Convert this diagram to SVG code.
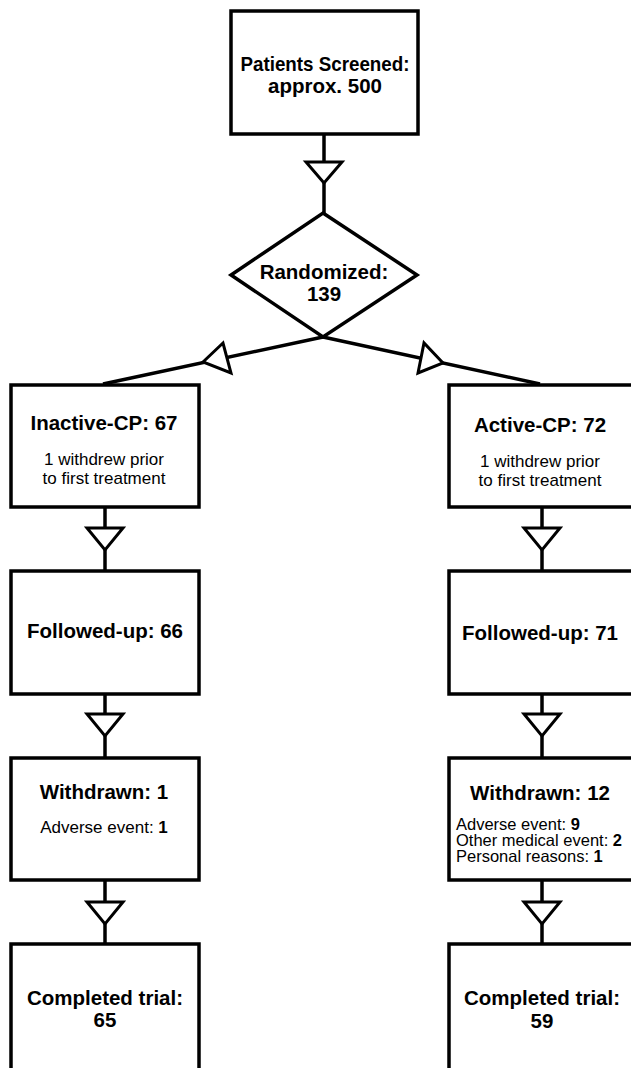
<svg xmlns="http://www.w3.org/2000/svg" width="631" height="1068" viewBox="0 0 631 1068">
<style>
.box{fill:#fff;stroke:#000;stroke-width:3.5}
.ln{fill:none;stroke:#000;stroke-width:3.5}
.ah{fill:#fff;stroke:#000;stroke-width:3;stroke-linejoin:miter}
.b{font-family:"Liberation Sans",Arial,sans-serif;font-weight:bold;font-size:20.5px;fill:#000;text-anchor:middle}
.r{font-family:"Liberation Sans",Arial,sans-serif;font-size:17px;fill:#000;text-anchor:middle}
.rl{font-family:"Liberation Sans",Arial,sans-serif;font-size:16.5px;fill:#000}
</style>
<rect width="631" height="1068" fill="#fff"/>
<g id="connectors">
<line class="ln" x1="324" y1="134" x2="324" y2="213"/>
<polygon class="ah" points="306,162 342,162 324,183"/>
<line class="ln" x1="323" y1="337" x2="103" y2="384"/>
<polygon class="ah" points="203,362 223,343 231,373"/>
<line class="ln" x1="323" y1="337" x2="540" y2="384"/>
<polygon class="ah" points="443,363 424,343 418,373"/>
<line class="ln" x1="105" y1="507" x2="105" y2="571"/>
<polygon class="ah" points="87,528 123,528 105,550"/>
<line class="ln" x1="105" y1="694" x2="105" y2="758"/>
<polygon class="ah" points="87,714 123,714 105,736"/>
<line class="ln" x1="105" y1="880" x2="105" y2="944"/>
<polygon class="ah" points="87,902 123,902 105,924"/>
<line class="ln" x1="542" y1="507" x2="542" y2="571"/>
<polygon class="ah" points="524,528 560,528 542,550"/>
<line class="ln" x1="542" y1="694" x2="542" y2="758"/>
<polygon class="ah" points="524,714 560,714 542,736"/>
<line class="ln" x1="542" y1="880" x2="542" y2="944"/>
<polygon class="ah" points="524,902 560,902 542,924"/>
</g>
<g id="screened">
<rect class="box" x="231" y="11" width="187" height="123"/>
<text class="b" x="325" y="71" font-size="19.5" textLength="169" lengthAdjust="spacingAndGlyphs">Patients Screened:</text>
<text class="b" x="325" y="93" font-size="19.5">approx. 500</text>
</g>
<g id="randomized">
<polygon class="box" points="323,213 417,275 323,337 231,275"/>
<text class="b" x="324" y="279">Randomized:</text>
<text class="b" x="324" y="301">139</text>
</g>
<g id="inactive">
<rect class="box" x="11" y="385" width="188" height="122"/>
<text class="b" x="104" y="430">Inactive-CP: 67</text>
<text class="r" x="104" y="465">1 withdrew prior</text>
<text class="r" x="104" y="484">to first treatment</text>
</g>
<g id="active">
<rect class="box" x="449" y="385" width="190" height="122"/>
<text class="b" x="540" y="432">Active-CP: 72</text>
<text class="r" x="540" y="467">1 withdrew prior</text>
<text class="r" x="540" y="486">to first treatment</text>
</g>
<g id="followed-left">
<rect class="box" x="11" y="571" width="188" height="123"/>
<text class="b" x="105" y="638">Followed-up: 66</text>
</g>
<g id="followed-right">
<rect class="box" x="449" y="571" width="190" height="123"/>
<text class="b" x="540" y="640">Followed-up: 71</text>
</g>
<g id="withdrawn-left">
<rect class="box" x="11" y="758" width="188" height="122"/>
<text class="b" x="104" y="799">Withdrawn: 1</text>
<text class="r" x="104" y="833">Adverse event: <tspan font-weight="bold">1</tspan></text>
</g>
<g id="withdrawn-right">
<rect class="box" x="449" y="758" width="190" height="122"/>
<text class="b" x="540" y="800">Withdrawn: 12</text>
<text class="rl" x="456" y="830">Adverse event: <tspan font-weight="bold">9</tspan></text>
<text class="rl" x="456" y="846">Other medical event: <tspan font-weight="bold">2</tspan></text>
<text class="rl" x="456" y="862">Personal reasons: <tspan font-weight="bold">1</tspan></text>
</g>
<g id="completed-left">
<rect class="box" x="11" y="944" width="188" height="140"/>
<text class="b" x="105" y="1005">Completed trial:</text>
<text class="b" x="105" y="1027">65</text>
</g>
<g id="completed-right">
<rect class="box" x="449" y="944" width="190" height="140"/>
<text class="b" x="542" y="1005">Completed trial:</text>
<text class="b" x="542" y="1028">59</text>
</g>
</svg>
